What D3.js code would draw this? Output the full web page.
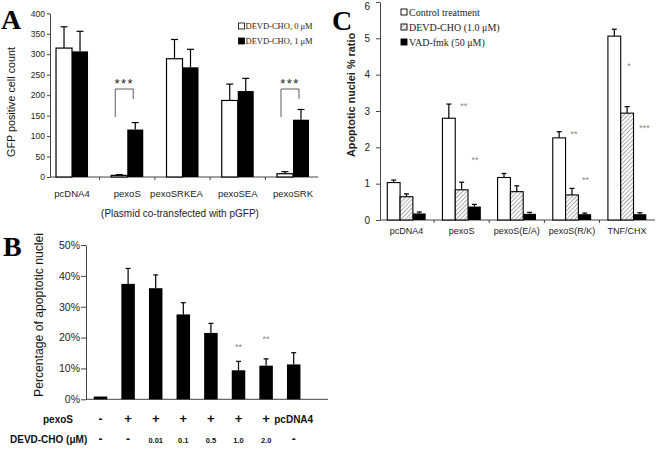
<!DOCTYPE html>
<html><head><meta charset="utf-8">
<script src="https://cdn.jsdelivr.net/npm/d3@7"></script>
<style>body{margin:0;background:#fff}svg{display:block}</style>
</head><body>
<script>
// Panel A data
const groupsA = ["pcDNA4","pexoS","pexoSRKEA","pexoSEA","pexoSRK"];
const a0 = [315, 4, 289, 187, 8];
const a0Err = [52, 2, 47, 40, 5];
const a1 = [307, 116, 268, 210, 140];
const a1Err = [49, 17, 44, 31, 25];
const ticksA = [0,50,100,150,200,250,300,350,400];
const legendA = ["DEVD-CHO, 0 \u03BCM","DEVD-CHO, 1 \u03BCM"];
// Panel B data
const bVals = [0.9, 37.4, 36.0, 27.5, 21.5, 9.4, 10.9, 11.3];
const bErr = [0, 5.0, 4.3, 3.8, 3.1, 2.9, 2.2, 3.8];
const bPexoRow = ["-","+","+","+","+","+","+","pcDNA4"];
const bDevdRow = ["-","-","0.01","0.1","0.5","1.0","2.0","-"];
const bSig = ["","","","","","**","**",""];
const ticksB = [0,10,20,30,40,50];
// Panel C data
const groupsC = ["pcDNA4","pexoS","pexoS(E/A)","pexoS(R/K)","TNF/CHX"];
const cCtrl = [1.03, 2.80, 1.17, 2.26, 5.06];
const cCtrlErr = [0.07, 0.39, 0.11, 0.17, 0.19];
const cDevd = [0.64, 0.83, 0.78, 0.69, 2.94];
const cDevdErr = [0.08, 0.21, 0.16, 0.18, 0.18];
const cVad = [0.18, 0.37, 0.17, 0.16, 0.16];
const cVadErr = [0.04, 0.06, 0.04, 0.03, 0.04];
const cSig1 = ["", "**", "", "**", "*"];
const cSig2 = ["", "**", "", "**", "***"];
const ticksC = [0,1,2,3,4,5,6];
const legendC = ["Control treatment","DEVD-CHO (1.0 \u03BCM)","VAD-fmk (50 \u03BCM)"];

const W = 656, H = 453;
const sans = "'Liberation Sans', Arial, sans-serif";
const serif = "'Liberation Serif', 'Times New Roman', serif";
const svg = d3.select("body").append("svg").attr("width", W).attr("height", H)
  .style("background", "#fff");

const defs = svg.append("defs");
const pat = defs.append("pattern").attr("id","hatch").attr("patternUnits","userSpaceOnUse")
  .attr("width",3).attr("height",3).attr("patternTransform","rotate(45)");
pat.append("rect").attr("width",3).attr("height",3).attr("fill","#fff");
pat.append("line").attr("x1",0).attr("y1",0).attr("x2",0).attr("y2",3)
  .attr("stroke","#666").attr("stroke-width",1.1);

function errBar(g, x, yTop, yBar, cap) {
  g.append("line").attr("x1",x).attr("x2",x).attr("y1",yBar).attr("y2",yTop).attr("stroke","#000").attr("stroke-width",1.2);
  g.append("line").attr("x1",x-cap/2).attr("x2",x+cap/2).attr("y1",yTop).attr("y2",yTop).attr("stroke","#000").attr("stroke-width",1.2);
}

// ================= Panel A =================
{
  const g = svg.append("g");
  const y = d3.scaleLinear().domain([0,400]).range([177,13.3]);
  const x = d3.scaleBand().domain(groupsA).range([44.4,320.6]);
  const bw = 16;
  const ax = g.append("g").attr("transform","translate(50,0)")
    .call(d3.axisLeft(y).tickValues(ticksA).tickSize(3).tickPadding(2).tickSizeOuter(0));
  ax.selectAll("text").attr("font-family",sans).attr("font-size",8.5).attr("fill","#222");
  ax.selectAll("line,path").attr("stroke","#444");
  g.append("line").attr("x1",50).attr("x2",318).attr("y1",177).attr("y2",177).attr("stroke","#444");
  groupsA.slice(1).forEach(d => {
    const bx = x(d);
    g.append("line").attr("x1",bx).attr("x2",bx).attr("y1",177).attr("y2",180).attr("stroke","#444");
  });
  groupsA.forEach((d,i) => {
    const c = x(d) + x.bandwidth()/2;
    g.append("rect").attr("x",c-bw).attr("y",y(a0[i])).attr("width",bw).attr("height",y(0)-y(a0[i]))
      .attr("fill","#fff").attr("stroke","#000").attr("stroke-width",1.2);
    errBar(g, c-bw/2, y(a0[i]+a0Err[i]), y(a0[i]), 7);
    g.append("rect").attr("x",c).attr("y",y(a1[i])).attr("width",bw).attr("height",y(0)-y(a1[i]))
      .attr("fill","#000");
    errBar(g, c+bw/2, y(a1[i]+a1Err[i]), y(a1[i]), 7);
    g.append("text").attr("x",c - (i===2 ? 6 : 0)).attr("y",197).attr("text-anchor","middle")
      .attr("font-family",sans).attr("font-size",9.5).attr("fill","#222").text(d);
  });
  // significance brackets
  [1,4].forEach(i => {
    const c = x(groupsA[i]) + x.bandwidth()/2;
    const l = c-12, r = c+6;
    g.append("path").attr("d",`M${l},117 L${l},89 L${r},89 L${r},99`).attr("fill","none").attr("stroke","#333").attr("stroke-width",0.8);
    g.append("text").attr("x",(l+r)/2).attr("y",88).attr("text-anchor","middle")
      .attr("font-family",sans).attr("font-size",13).attr("letter-spacing",1.5).attr("fill","#222").text("***");
  });
  g.append("text").attr("transform","translate(15,102) rotate(-90)").attr("text-anchor","middle")
    .attr("font-family",sans).attr("font-size",11).attr("fill","#111")
    .attr("textLength",110).attr("lengthAdjust","spacingAndGlyphs").text("GFP positive cell count");
  g.append("text").attr("x",180).attr("y",217).attr("text-anchor","middle")
    .attr("font-family",sans).attr("font-size",10).attr("fill","#222").text("(Plasmid co-transfected with pGFP)");
  legendA.forEach((t,i) => {
    const yy = 23 + i*15;
    g.append("rect").attr("x",238.5).attr("y",yy).attr("width",6).attr("height",6)
      .attr("fill", i===0 ? "#fff" : "#000").attr("stroke","#000").attr("stroke-width",0.8);
    g.append("text").attr("x",245.5).attr("y",yy+6).attr("font-family",serif).attr("font-size",8.5)
      .attr("fill","#222").text(t);
  });
  g.append("text").attr("x",1).attr("y",29).attr("font-family",serif).attr("font-weight","bold")
    .attr("font-size",28).attr("fill","#000").text("A");
}

// ================= Panel B =================
{
  const g = svg.append("g");
  const y = d3.scaleLinear().domain([0,50]).range([399.3,245]);
  const idx = d3.range(bVals.length);
  const x = d3.scaleBand().domain(idx).range([86.7,307.5]);
  const bw = 13.5;
  const ax = g.append("g").attr("transform","translate(86,0)")
    .call(d3.axisLeft(y).tickValues(ticksB).tickFormat(d => d + "%").tickSize(5).tickPadding(1).tickSizeOuter(0));
  ax.selectAll("text").attr("font-family",sans).attr("font-size",10.5).attr("fill","#222");
  ax.selectAll("line,path").attr("stroke","#444");
  g.append("line").attr("x1",86).attr("x2",328).attr("y1",399.3).attr("y2",399.3).attr("stroke","#444");
  idx.forEach(i => {
    const c = x(i) + x.bandwidth()/2;
    g.append("rect").attr("x",c-bw/2).attr("y",y(bVals[i])).attr("width",bw).attr("height",y(0)-y(bVals[i]))
      .attr("fill","#000");
    if (bErr[i] > 0) errBar(g, c, y(bVals[i]+bErr[i]), y(bVals[i]), 5);
    if (bSig[i]) g.append("text").attr("x",c).attr("y",i===5?350:342).attr("text-anchor","middle")
      .attr("font-family",sans).attr("font-size",9).attr("fill","#888").text(bSig[i]);
    const pv = bPexoRow[i];
    g.append("text").attr("x",c).attr("y",423).attr("text-anchor","middle")
      .attr("font-family",sans).attr("font-weight","bold")
      .attr("font-size", pv === "pcDNA4" ? 10 : (pv === "+" ? 13 : 12)).attr("fill","#111").text(pv);
    const dv = bDevdRow[i];
    g.append("text").attr("x",c).attr("y",443).attr("text-anchor","middle")
      .attr("font-family",sans).attr("font-weight","bold")
      .attr("font-size", dv === "-" ? 12 : 7.5).attr("fill","#111").text(dv);
  });
  g.append("text").attr("x",43).attr("y",423).attr("font-family",sans).attr("font-weight","bold")
    .attr("font-size",10).attr("fill","#111").text("pexoS");
  g.append("text").attr("x",10).attr("y",443).attr("font-family",sans).attr("font-weight","bold")
    .attr("font-size",10).attr("fill","#111").text("DEVD-CHO (\u03BCM)");
  g.append("text").attr("transform","translate(43,315) rotate(-90)").attr("text-anchor","middle")
    .attr("font-family",sans).attr("font-size",12).attr("fill","#111")
    .attr("textLength",164).attr("lengthAdjust","spacingAndGlyphs").text("Percentage of apoptotic nuclei");
  g.append("text").attr("x",3).attr("y",256).attr("font-family",serif).attr("font-weight","bold")
    .attr("font-size",28).attr("fill","#000").text("B");
}

// ================= Panel C =================
{
  const g = svg.append("g");
  const y = d3.scaleLinear().domain([0,6]).range([220,1.96]);
  const x = d3.scaleBand().domain(groupsC).range([378.9,654.7]);
  const bw = 12.8;
  const ax = g.append("g").attr("transform","translate(380,0)")
    .call(d3.axisLeft(y).tickValues(ticksC).tickFormat(d3.format("d")).tickSize(4).tickPadding(6).tickSizeOuter(0));
  ax.selectAll("text").attr("font-family",sans).attr("font-size",10).attr("fill","#222");
  ax.selectAll(".tick text").filter(d => d === 6).attr("dy","0.75em");
  ax.selectAll("line,path").attr("stroke","#444");
  g.append("line").attr("x1",380).attr("x2",655).attr("y1",220).attr("y2",220).attr("stroke","#444");
  groupsC.slice(1).forEach(d => {
    const bx = x(d);
    g.append("line").attr("x1",bx).attr("x2",bx).attr("y1",220).attr("y2",223).attr("stroke","#444");
  });
  const series = [
    {v:cCtrl, e:cCtrlErr, fill:"#fff", stroke:true},
    {v:cDevd, e:cDevdErr, fill:"url(#hatch)", stroke:true},
    {v:cVad, e:cVadErr, fill:"#000", stroke:false}
  ];
  groupsC.forEach((d,i) => {
    const c = x(d) + x.bandwidth()/2;
    series.forEach((s,k) => {
      const bx = c - bw*1.5 + k*bw;
      g.append("rect").attr("x",bx).attr("y",y(s.v[i])).attr("width",bw).attr("height",y(0)-y(s.v[i]))
        .attr("fill",s.fill).attr("stroke","#000").attr("stroke-width", s.stroke ? 1.1 : 0);
      errBar(g, bx+bw/2, y(s.v[i]+s.e[i]), y(s.v[i]), 5);
    });
    if (cSig1[i]) {
      const yy = i===4 ? y(cDevd[i]+cDevdErr[i]) - 38 : y(cCtrl[i]+cCtrlErr[i]) + 5;
      g.append("text").attr("x",c+2).attr("y",yy).attr("text-anchor","middle")
        .attr("font-family",sans).attr("font-size",9).attr("fill","#888").text(cSig1[i]);
    }
    if (cSig2[i]) {
      const yy = i===4 ? y(cDevd[i]) + 18 : y(cCtrl[i]) + 45;
      g.append("text").attr("x",c+bw*1.05+(i===4?4:0)).attr("y",yy).attr("text-anchor","middle")
        .attr("font-family",sans).attr("font-size",9).attr("fill","#888").text(cSig2[i]);
    }
    g.append("text").attr("x",c).attr("y",234).attr("text-anchor","middle")
      .attr("font-family",sans).attr("font-size",9).attr("fill","#222").text(d);
  });
  legendC.forEach((t,i) => {
    const yy = 9 + i*15;
    g.append("rect").attr("x",401).attr("y",yy).attr("width",6).attr("height",6)
      .attr("fill", i===0 ? "#fff" : (i===1 ? "url(#hatch)" : "#000")).attr("stroke","#000").attr("stroke-width",0.9);
    g.append("text").attr("x",409).attr("y",yy+6.5).attr("font-family",serif).attr("font-size",10)
      .attr("fill","#222").text(t);
  });
  g.append("text").attr("transform","translate(355,95) rotate(-90)").attr("text-anchor","middle")
    .attr("font-family",sans).attr("font-weight","bold").attr("font-size",11.5).attr("fill","#222")
    .attr("textLength",124).attr("lengthAdjust","spacingAndGlyphs").text("Apoptotic nuclei % ratio");
  g.append("text").attr("x",332).attr("y",30).attr("font-family",serif).attr("font-weight","bold")
    .attr("font-size",28).attr("fill","#000").text("C");
}
</script>
</body></html>
